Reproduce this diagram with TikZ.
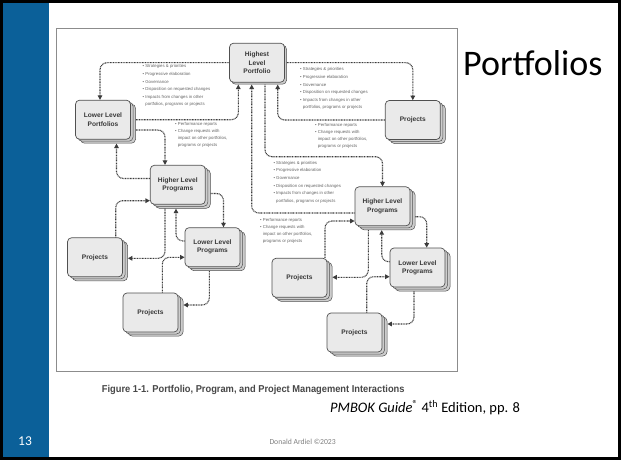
\documentclass[tikz,border=0pt]{standalone}
\usepackage{fontspec}
\setmainfont{Carlito}
\newfontfamily\diag{Liberation Sans}
\usepackage{graphicx}
\usetikzlibrary{arrows.meta,shadows}
\definecolor{slideblue}{RGB}{11,96,153}
\definecolor{boxfill}{RGB}{234,234,234}
\definecolor{boxshade}{RGB}{205,205,205}
\definecolor{boxline}{RGB}{80,80,80}
\definecolor{conncol}{RGB}{60,60,60}
\definecolor{txtgray}{RGB}{100,100,100}
\definecolor{framegray}{RGB}{140,140,140}
\tikzset{
 boxbase/.style={draw=boxline, fill=boxfill, line width=0.7pt, rounded corners=4pt,
   minimum width=55pt, minimum height=39pt, inner sep=1pt, align=center,
   font=\diag\bfseries\fontsize{6.6}{8.2}\selectfont, text=black!78},
 pbox/.style={boxbase, double copy shadow={shadow xshift=2.5pt, shadow yshift=-2pt,
   fill=boxshade, draw=boxline, line width=0.5pt}},
 hbox/.style={boxbase, copy shadow={shadow xshift=2pt, shadow yshift=-2pt,
   fill=boxshade, draw=boxline, line width=0.5pt}},
 conn/.style={draw=conncol, line width=1.1pt, dash pattern=on 0.9pt off 0.7pt,
   rounded corners=7pt, -{Triangle[length=4.5pt,width=4.5pt]}},
 lst/.style={inner sep=0pt, anchor=north west, align=left, text=txtgray,
   font=\diag\fontsize{4.3}{7.6}\selectfont},
 lstb/.style={lst, font=\diag\fontsize{4.3}{6.8}\selectfont},
}
\begin{document}
\begin{tikzpicture}[x=1pt,y=-1pt]
\useasboundingbox (0,0) rectangle (621,460);
% slide
\fill[black] (0,0) rectangle (621,460);
\fill[white] (3,3) rectangle (618,457);
\fill[slideblue] (3,3) rectangle (49,457);
% figure frame
\draw[framegray, line width=1pt] (56.2,28.7) rectangle (457.4,371);

% boxes
\node[hbox] (high) at (257,62.7) {Highest\\Level\\Portfolio};
\node[pbox] (llp)  at (103,119.7) {Lower Level\\Portfolios};
\node[pbox] (ptr)  at (412.8,120) {Projects};
\node[pbox] (hlpl) at (177.8,184.8) {Higher Level\\Programs};
\node[pbox] (llpl) at (212.5,247.2) {Lower Level\\Programs};
\node[pbox] (pl)   at (95,257.3) {Projects};
\node[pbox] (plb)  at (150.5,312.5) {Projects};
\node[pbox] (hlpr) at (382.5,206.3) {Higher Level\\Programs};
\node[pbox] (llpr) at (417.5,267.5) {Lower Level\\Programs};
\node[pbox] (prm)  at (299.5,277.8) {Projects};
\node[pbox] (prb)  at (354.5,332.5) {Projects};

\foreach \n in {llp,ptr,hlpl,llpl,pl,plb,hlpr,llpr,prm,prb}{
  \coordinate (\n-E) at ([xshift=5pt]\n.east);
  \coordinate (\n-S) at ([yshift=-4pt]\n.south);
}
\coordinate (high-S) at ([yshift=-2pt]high.south);
\coordinate (high-E) at ([xshift=2pt]high.east);

% top level connectors
\draw[conn] (high.west) -| ([xshift=-3pt]llp.north);
\draw[conn] (high-E) -| (ptr.north);
\draw[conn] (llp-E) -| (238.3,0 |- high-S);
\draw[conn] (ptr.west) -| (277.7,0 |- high-S);
\draw[conn] (265,0 |- high-S) -- (265,156.7) -| (hlpr.north);
\draw[conn] (hlpr.west |- 0,213) -| (251.7,0 |- high-S);

% left cluster
\draw[conn] (llp-E |- 0,130) -| (165,0 |- hlpl.north);
\draw[conn] (hlpl.west |- 0,178.5) -| (116.5,0 |- llp-S);
\draw[conn] (hlpl-E |- 0,193.5) -| (223.5,0 |- llpl.north);
\draw[conn] (llpl.west |- 0,241) -| (176,0 |- hlpl-S);
\draw[conn] (115.7,0 |- pl.north) |- (hlpl.west |- 0,200.7);
\draw[conn] (165,0 |- hlpl-S) |- (pl-E |- 0,258.3);
\draw[conn] (162.3,0 |- plb.north) |- (llpl.west |- 0,257.3);
\draw[conn] (209.3,0 |- llpl-S) |- (plb-E |- 0,305);

% right cluster
\draw[conn] (hlpr-E |- 0,216.7) -| (426.7,0 |- llpr.north);
\draw[conn] (llpr.west |- 0,261.7) -| (381.7,0 |- hlpr-S);
\draw[conn] (325,0 |- prm.north) |- (hlpr.west |- 0,221);
\draw[conn] (368.3,0 |- hlpr-S) |- (prm-E |- 0,277.3);
\draw[conn] (366.7,0 |- prb.north) |- (llpr.west |- 0,276.7);
\draw[conn] (414,0 |- llpr-S) |- (prb-E |- 0,324);

% text lists
\node[lst] (t1) at (142.5,64.5) {• Strategies \& priorities\\• Progressive elaboration\\• Governance\\• Disposition on requested changes\\• Impacts from changes in other\\\hphantom{• }portfolios, programs or projects};
\node[lst] (t2) at (300,67.5) {• Strategies \& priorities\\• Progressive elaboration\\• Governance\\• Disposition on requested changes\\• Impacts from changes in other\\\hphantom{• }portfolios, programs or projects};
\node[lst] (t5) at (273.3,161) {• Strategies \& priorities\\• Progressive elaboration\\• Governance\\• Disposition on requested changes\\• Impacts from changes in other\\\hphantom{• }portfolios, programs or projects};
\node[lstb] (t3) at (175,122.5) {• Performance reports\\• Change requests with\\\hphantom{• }impact on other portfolios,\\\hphantom{• }programs or projects};
\node[lstb] (t4) at (315,123.5) {• Performance reports\\• Change requests with\\\hphantom{• }impact on other portfolios,\\\hphantom{• }programs or projects};
\node[lstb] (t6) at (260,218.5) {• Performance reports\\• Change requests with\\\hphantom{• }impact on other portfolios,\\\hphantom{• }programs or projects};

% texts
\node[anchor=base west, inner sep=0, font=\fontsize{36}{40}\selectfont] (title) at (463,75) {Portfolios};
\node[anchor=base west, inner sep=0, text=black!72] (cap) at (101.7,392) {\scalebox{0.93}[1]{\diag\bfseries\fontsize{10}{12}\selectfont Figure 1-1. Portfolio, Program, and Project Management Interactions}};
\node[anchor=base west, inner sep=0, font=\fontsize{14.5}{17}\selectfont] (ref) at (330,412.5) {\textit{PMBOK Guide}\textsuperscript{®} 4\textsuperscript{th} Edition, pp. 8};
\node[anchor=base west, inner sep=0, text=white, font=\fontsize{13.5}{16}\selectfont] (pg) at (18,445) {13};
\node[anchor=base west, inner sep=0, text=black!50, font=\fontsize{7.7}{9}\selectfont] (foot) at (269.3,444.5) {Donald Ardiel ©2023};
\end{tikzpicture}
\end{document}
